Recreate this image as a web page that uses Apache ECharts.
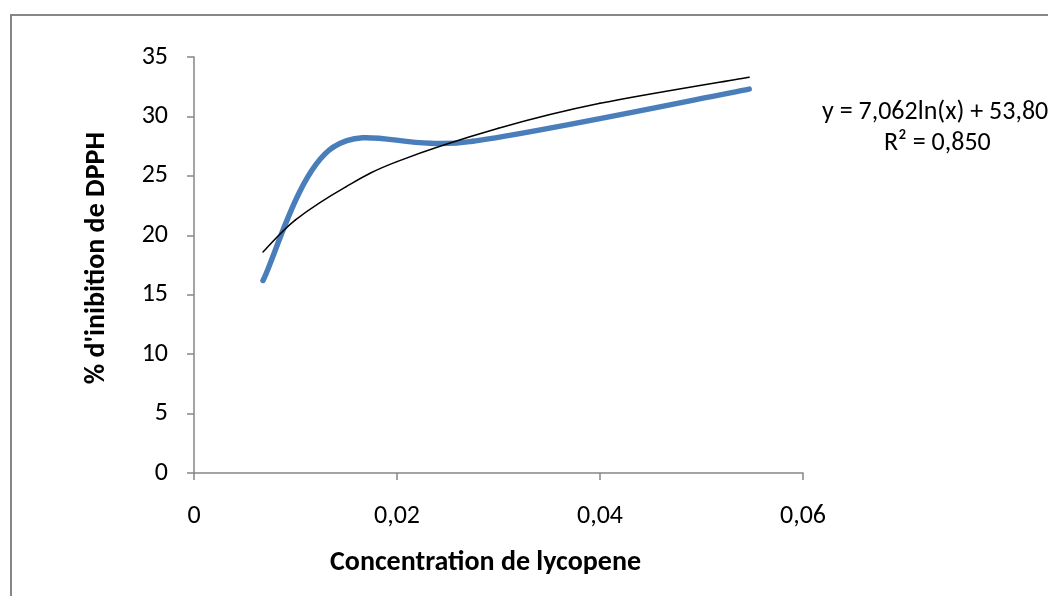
<!DOCTYPE html>
<html>
<head>
<meta charset="utf-8">
<title>DPPH</title>
<script src="https://cdn.jsdelivr.net/npm/echarts@6/dist/echarts.min.js"></script>
<style>
  html, body { margin: 0; padding: 0; background: #fff; }
  #chart { width: 1048px; height: 596px; }
</style>
</head>
<body>
<div id="chart"></div>
<script>
// measured points
var concentration = [0.0068, 0.0137, 0.0274, 0.0547]
var inhibition = [16.2, 27.4, 27.9, 32.3]

// log trend line
var trendX = [0.0068, 0.010, 0.015, 0.020, 0.030, 0.040, 0.0547]
var trendY = [18.6, 21.3, 24.1, 26.2, 29.0, 31.1, 33.3]

var xTicks = ['0', '0,02', '0,04', '0,06']
var equation = 'y = 7,062ln(x) + 53,80'
var rSquared = 'R² = 0,850'

var font = 'Carlito, "Open Sans", sans-serif'

function pairs (xs, ys) {
  return xs.map(function (x, i) { return [x, ys[i]] })
}

// excel-like smoothing: one bezier per segment, control points from neighbours
function smoothSegment (xs, ys, color, width) {
  return function (params, api) {
    var i = params.dataIndex
    if (i >= xs.length - 1) return null
    var p0 = api.coord([xs[Math.max(i - 1, 0)], ys[Math.max(i - 1, 0)]])
    var p1 = api.coord([xs[i], ys[i]])
    var p2 = api.coord([xs[i + 1], ys[i + 1]])
    var p3 = api.coord([xs[Math.min(i + 2, xs.length - 1)], ys[Math.min(i + 2, xs.length - 1)]])
    return {
      type: 'bezierCurve',
      shape: {
        x1: p1[0],
        y1: p1[1],
        cpx1: p1[0] + (p2[0] - p0[0]) / 6,
        cpy1: p1[1] + (p2[1] - p0[1]) / 6,
        cpx2: p2[0] - (p3[0] - p1[0]) / 6,
        cpy2: p2[1] - (p3[1] - p1[1]) / 6,
        x2: p2[0],
        y2: p2[1]
      },
      style: { fill: 'none', stroke: color, lineWidth: width, lineCap: 'round' }
    }
  }
}

var chart = echarts.init(document.getElementById('chart'))

var option = {
  animation: false,
  grid: {
    left: 194,
    right: 245,
    top: 57,
    bottom: 123
  },
  graphic: [
    {
      type: 'rect',
      shape: { x: 11, y: 15, width: 1100, height: 700 },
      style: { fill: 'none', stroke: '#868686', lineWidth: 2 },
      silent: true
    },
    {
      type: 'text',
      left: 822,
      top: 99,
      style: { text: equation, font: '26px ' + font, fill: '#000' }
    },
    {
      type: 'text',
      left: 884,
      top: 130,
      style: { text: rSquared, font: '26px ' + font, fill: '#000' }
    }
  ],
  xAxis: {
    type: 'value',
    min: 0,
    max: 0.06,
    interval: 0.02,
    name: 'Concentration de lycopene',
    nameLocation: 'middle',
    nameGap: 76,
    nameTextStyle: {
      fontFamily: font,
      fontSize: 28,
      fontWeight: 'bold',
      color: '#000',
      padding: [0, 26, 0, 0]
    },
    axisLine: { lineStyle: { color: '#868686', width: 1.5 } },
    axisTick: { show: true, length: 7, lineStyle: { color: '#868686', width: 1.5 } },
    axisLabel: {
      margin: 30,
      fontFamily: font,
      fontSize: 26,
      color: '#000',
      formatter: function (v) { return xTicks[Math.round(v / 0.02)] }
    },
    splitLine: { show: false }
  },
  yAxis: {
    type: 'value',
    min: 0,
    max: 35,
    interval: 5,
    name: "% d'inibition de DPPH",
    nameLocation: 'middle',
    nameGap: 83,
    nameRotate: 90,
    nameTextStyle: {
      fontFamily: font,
      fontSize: 28,
      fontWeight: 'bold',
      color: '#000',
      padding: [0, 0, 0, 14]
    },
    axisLine: { show: true, lineStyle: { color: '#868686', width: 1.5 } },
    axisTick: { show: true, length: 7, lineStyle: { color: '#868686', width: 1.5 } },
    axisLabel: { margin: 26, fontFamily: font, fontSize: 26, color: '#000' },
    splitLine: { show: false }
  },
  series: [
    {
      name: 'inhibition',
      type: 'custom',
      data: pairs(concentration, inhibition),
      renderItem: smoothSegment(concentration, inhibition, '#4a7ebb', 5.5),
      z: 2
    },
    {
      name: 'trend',
      type: 'custom',
      data: pairs(trendX, trendY),
      renderItem: smoothSegment(trendX, trendY, '#000', 1.5),
      z: 3
    }
  ]
}

chart.setOption(option)
</script>
</body>
</html>
